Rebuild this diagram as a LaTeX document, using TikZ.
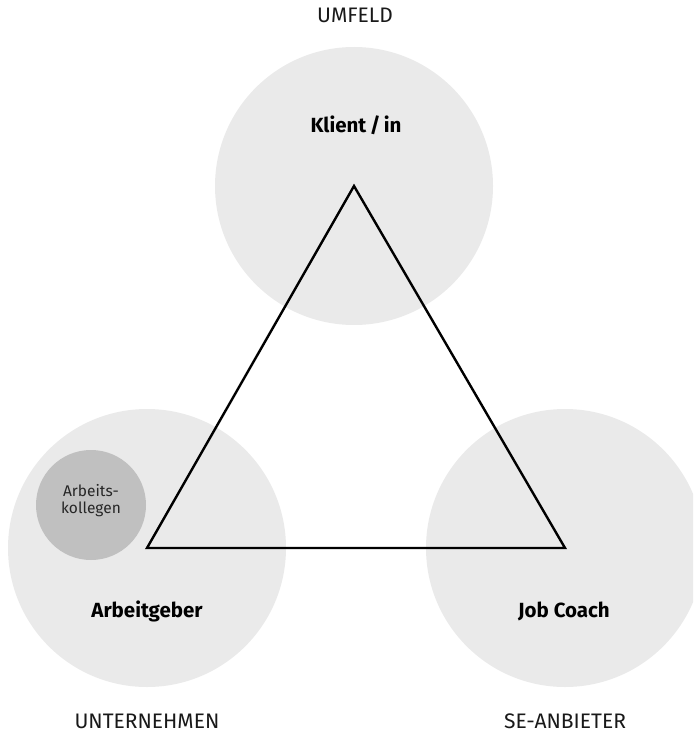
\documentclass[tikz,border=0pt]{standalone}
\usepackage{fontspec}
\setmainfont{Fira Sans}
\definecolor{bigc}{HTML}{EAEAEA}
\definecolor{smallc}{HTML}{C0C0C0}
\begin{document}
\begin{tikzpicture}[x=1pt,y=-1pt,
  bigcirc/.style={circle,fill=bigc,minimum size=278pt,inner sep=0pt},
  smallcirc/.style={circle,fill=smallc,minimum size=110pt,inner sep=0pt},
  smalltext/.style={align=center,font=\fontsize{15.5}{16.5}\selectfont,text=black!85,anchor=base},
  rolelabel/.style={font=\fontsize{20.5}{24}\selectfont\bfseries,anchor=base},
  arealabel/.style={font=\fontsize{21}{24}\selectfont,text=black!90,anchor=base}]
\useasboundingbox (0,0) rectangle (693,735);
\clip (0,0) rectangle (693,735);
\node[bigcirc] (k) at (354,186) {};
\node[bigcirc] (a) at (147,548) {};
\node[bigcirc] (j) at (565,548) {};
\node[smallcirc] (ak) at (91,505) {};
\node[smalltext] (akt) at (91,513) {Arbeits-\\kollegen};
\draw[line width=2.4pt,line join=miter] (k.center) -- (a.center) -- (j.center) -- cycle;
\node[rolelabel] (kl) at (356,133) {Klient\,/\,in};
\node[rolelabel] (ag) at (147,617) {Arbeitgeber};
\node[rolelabel] (jc) at (564,617) {Job Coach};
\node[arealabel] (u) at (355,23) {UMFELD};
\node[arealabel] (un) at (147,728) {UNTERNEHMEN};
\node[arealabel] (se) at (565,728) {SE-ANBIETER};
\end{tikzpicture}
\end{document}
